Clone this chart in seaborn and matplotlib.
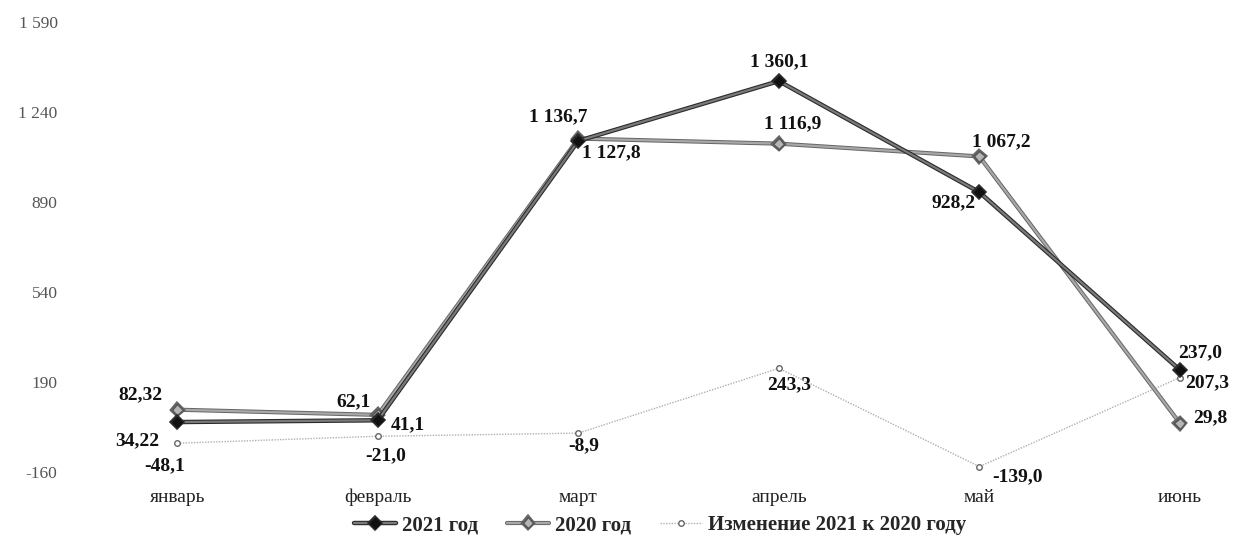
import matplotlib
matplotlib.use("Agg")
import matplotlib.pyplot as plt
import matplotlib.patheffects as pe
from matplotlib.lines import Line2D
import pandas as pd
import seaborn as sns

months = ["январь", "февраль", "март", "апрель", "май", "июнь"]
y2021 = [34.22, 41.1, 1127.8, 1360.1, 928.2, 237.0]
y2020 = [82.32, 62.1, 1136.7, 1116.9, 1067.2, 29.8]
change = [-48.1, -21.0, -8.9, 243.3, -139.0, 207.3]
series_names = ["2021 год", "2020 год", "Изменение 2021 к 2020 году"]
yticks = [-160, 190, 540, 890, 1240, 1590]

# label offsets in pixels (dx, dy) for each point
off2021 = [(-40, -19), (30, -4), (33, -12), (0, 19), (-26, -11), (20, 17)]
off2020 = [(-37, 15), (-24, 13), (-20, 22), (14, 20), (22, 15), (30, 5)]
offchg = [(-13, -23), (8, -19), (5, -13), (10, -16), (38, -10), (27, -5)]


def fmt(v, dec=None):
    if dec is None:
        dec = 1 if round(v, 1) == v else 2
    s = f"{abs(v):,.{dec}f}".replace(",", " ").replace(".", ",")
    return ("-" if v < 0 else "") + s


sns.set_theme(style="white")
plt.rcParams["font.family"] = ["Liberation Serif", "DejaVu Serif"]

fig = plt.figure(figsize=(12.34, 5.42), dpi=100)
ax = fig.add_axes([77 / 1234, 70 / 542, 1 - 77 / 1234, 450 / 542])

df = pd.DataFrame({"month": months, "y2021": y2021, "y2020": y2020, "chg": change})
df["pos"] = range(len(months))

st2021 = dict(color="#7a7a7a", lw=1.6, marker="D", markersize=5,
              markerfacecolor="#111111", markeredgecolor="#111111")
st2020 = dict(color="#a8a8a8", lw=1.6, marker="D", markersize=5.5,
              markerfacecolor="#b5b5b5", markeredgecolor="#555555", markeredgewidth=1.0)
stchg = dict(color="#b0b0b0", lw=1.0, linestyle=(0, (1, 1)), marker="o", markersize=4,
             markerfacecolor="white", markeredgecolor="#666666", markeredgewidth=1.0)
fx2021 = [pe.Stroke(linewidth=3.2, foreground="#2a2a2a"), pe.Normal()]
fx2020 = [pe.Stroke(linewidth=3.0, foreground="#666666"), pe.Normal()]

# change line (thin dotted)
sns.lineplot(data=df, x="pos", y="chg", ax=ax, zorder=2, **stchg)
sns.lineplot(data=df, x="pos", y="y2020", ax=ax, zorder=3, **st2020)
ax.lines[-1].set_path_effects(fx2020)
sns.lineplot(data=df, x="pos", y="y2021", ax=ax, zorder=4, **st2021)
ax.lines[-1].set_path_effects(fx2021)

for vals, offs in ((y2021, off2021), (y2020, off2020), (change, offchg)):
    for i, (v, (dx, dy)) in enumerate(zip(vals, offs)):
        ax.annotate(fmt(v), (i, v), xytext=(dx, dy), textcoords="offset pixels",
                    ha="center", va="center", fontsize=14, fontweight="bold",
                    color="#111111", zorder=6)

ax.set_xlim(-0.5, 5.27)
ax.set_ylim(-160, 1590)
ax.set_xticks(range(len(months)))
ax.set_xticklabels(months)
ax.set_yticks(yticks)
ax.set_yticklabels([fmt(t, 0) for t in yticks])
ax.tick_params(axis="y", length=0, pad=14, labelsize=12.5, labelcolor="#555555")
ax.tick_params(axis="x", length=0, pad=12, labelsize=14, labelcolor="#222222")
ax.set_xlabel("")
ax.set_ylabel("")
for s in ax.spines.values():
    s.set_visible(False)
ax.grid(False)

handles = [
    Line2D([0], [0], path_effects=fx2021, **st2021),
    Line2D([0], [0], path_effects=fx2020, **st2020),
    Line2D([0], [0], **stchg),
]
fig.legend(handles, series_names, loc="center", bbox_to_anchor=(0.535, 17 / 542),
           ncol=3, frameon=False, handlelength=2.0, columnspacing=1.4,
           handletextpad=0.3, prop={"weight": "bold", "size": 15})

fig.savefig("out.png", dpi=100)
